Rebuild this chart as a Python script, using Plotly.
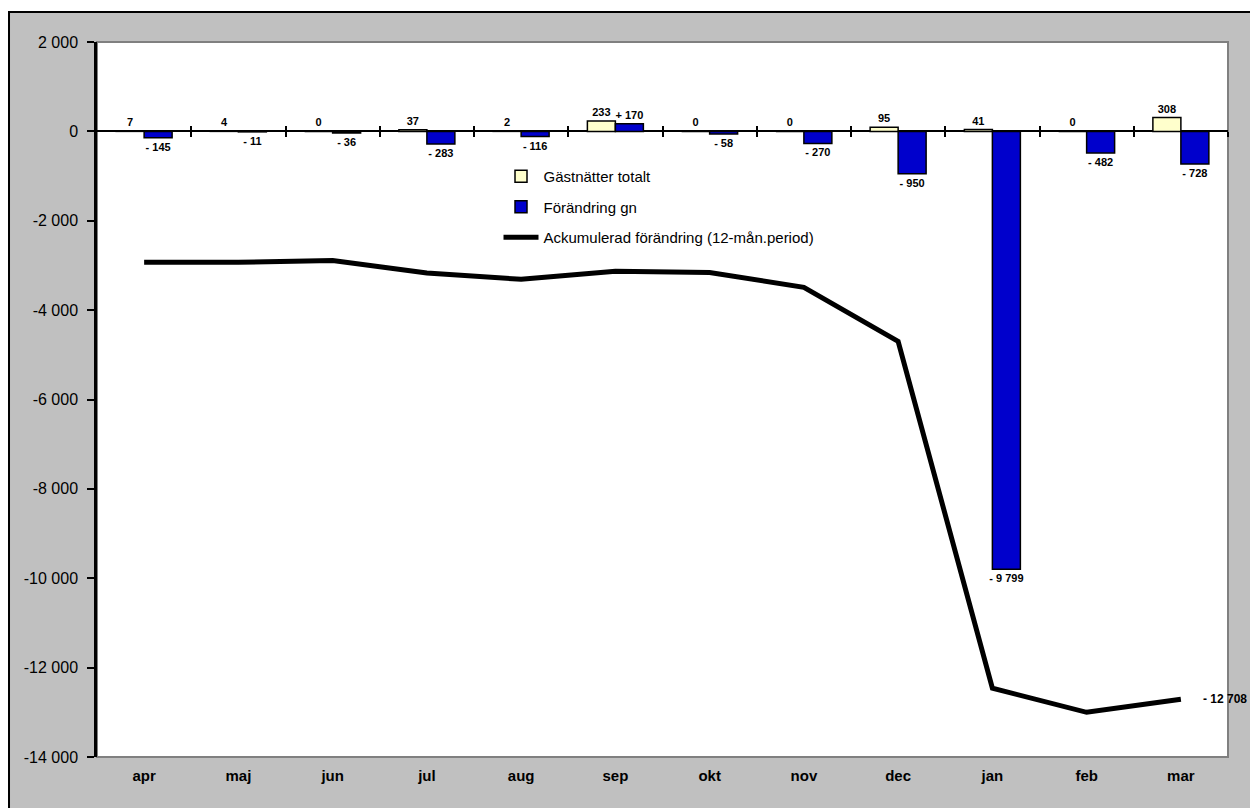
import plotly.graph_objects as go

months = ["apr", "maj", "jun", "jul", "aug", "sep", "okt", "nov", "dec", "jan", "feb", "mar"]
guest_nights = [7, 4, 0, 37, 2, 233, 0, 0, 95, 41, 0, 308]
change_gn = [-145, -11, -36, -283, -116, 170, -58, -270, -950, -9799, -482, -728]
accumulated = [-2930, -2930, -2890, -3170, -3310, -3130, -3160, -3490, -4700, -12460, -13000, -12708]
y_ticks = list(range(-14000, 2001, 2000))

FONT = "Arial, Liberation Sans, sans-serif"


def thousands(v):
    return f"{abs(v):,}".replace(",", " ")


def tick_label(v):
    return ("-" if v < 0 else "") + thousands(v)


def change_label(v):
    if v < 0:
        return "- " + thousands(v)
    if v > 0:
        return "+ " + thousands(v)
    return "0"


fig = go.Figure()

fig.add_trace(go.Bar(
    x=months, y=guest_nights, name="Gästnätter totalt",
    marker=dict(color="#FFFFCC", line=dict(color="black", width=1.5)),
    text=[thousands(v) for v in guest_nights], textposition="outside",
    textfont=dict(family=FONT, size=11, color="black", weight="bold"),
    constraintext="none", cliponaxis=False, legendgroup="a",
))
fig.add_trace(go.Bar(
    x=months, y=change_gn, name="Förändring gn",
    marker=dict(color="#0000CC", line=dict(color="black", width=1.5)),
    text=[change_label(v) for v in change_gn], textposition="outside",
    textfont=dict(family=FONT, size=11, color="black", weight="bold"),
    constraintext="none", cliponaxis=False, legendgroup="b",
))
fig.add_trace(go.Scatter(
    x=months, y=accumulated, name="Ackumulerad förändring (12-mån.period)",
    mode="lines", line=dict(color="black", width=5), legendgroup="c",
))

# Label for the last accumulated value
fig.add_annotation(
    x=months[-1], y=accumulated[-1], text=change_label(accumulated[-1]),
    showarrow=False, xanchor="left", xshift=20,
    font=dict(family=FONT, size=12, color="black", weight="bold"),
)

# Category-boundary tick marks crossing the zero line
zero_pos = (0 - y_ticks[0]) / (y_ticks[-1] - y_ticks[0])
boundaries = [i + 0.5 for i in range(len(months))]
x_range = [-0.5, len(months) - 0.5]
for ax in ("x2", "x3"):
    fig.add_trace(go.Scatter(x=[], y=[], xaxis=ax, yaxis="y", showlegend=False, hoverinfo="skip"))

common_tick_axis = dict(
    overlaying="x", anchor="free", position=zero_pos, side="bottom", type="linear",
    range=x_range, tickvals=boundaries, showticklabels=False,
    ticklen=5, tickwidth=2, tickcolor="black", showgrid=False, zeroline=False, showline=False,
)

fig.update_layout(
    width=1250, height=808,
    margin=dict(l=97, r=22, t=42, b=51),
    paper_bgcolor="white", plot_bgcolor="white",
    font=dict(family=FONT, size=12, color="black"),
    barmode="group", bargap=0.406, bargroupgap=0,
    showlegend=True,
    legend=dict(
        x=0.355, y=0.835, xanchor="left", yanchor="top",
        bgcolor="rgba(0,0,0,0)", font=dict(family=FONT, size=15, color="black"),
        traceorder="grouped", tracegroupgap=8, itemwidth=35,
    ),
    xaxis=dict(
        type="category", range=x_range, autorange=False,
        showgrid=False, zeroline=False, showline=False, ticks="",
        tickfont=dict(family=FONT, size=15, color="black", weight="bold"),
        ticklabelstandoff=8,
    ),
    xaxis2=dict(common_tick_axis, ticks="outside"),
    xaxis3=dict(common_tick_axis, ticks="inside"),
    yaxis=dict(
        range=[y_ticks[0], y_ticks[-1]], autorange=False, tickvals=y_ticks,
        ticktext=[tick_label(v) for v in y_ticks],
        showgrid=False, zeroline=True, zerolinecolor="black", zerolinewidth=2,
        showline=True, linecolor="black", linewidth=2.5,
        ticks="outside", ticklen=7, tickwidth=2, tickcolor="black",
        tickfont=dict(family=FONT, size=16, color="black"),
        ticklabelstandoff=6,
    ),
    shapes=[
        dict(type="rect", xref="paper", yref="paper", x0=-0.0778, x1=1.1, y0=-0.2, y1=1.042,
             fillcolor="#C0C0C0", line=dict(color="black", width=2), layer="below"),
        dict(type="rect", xref="paper", yref="paper", x0=0, x1=1, y0=0, y1=1,
             fillcolor="white", line=dict(color="#808080", width=2), layer="below"),
    ],
)

fig.write_html(
    "out.html",
    config={"displayModeBar": False},
    post_script="document.body.style.margin='0';",
)
